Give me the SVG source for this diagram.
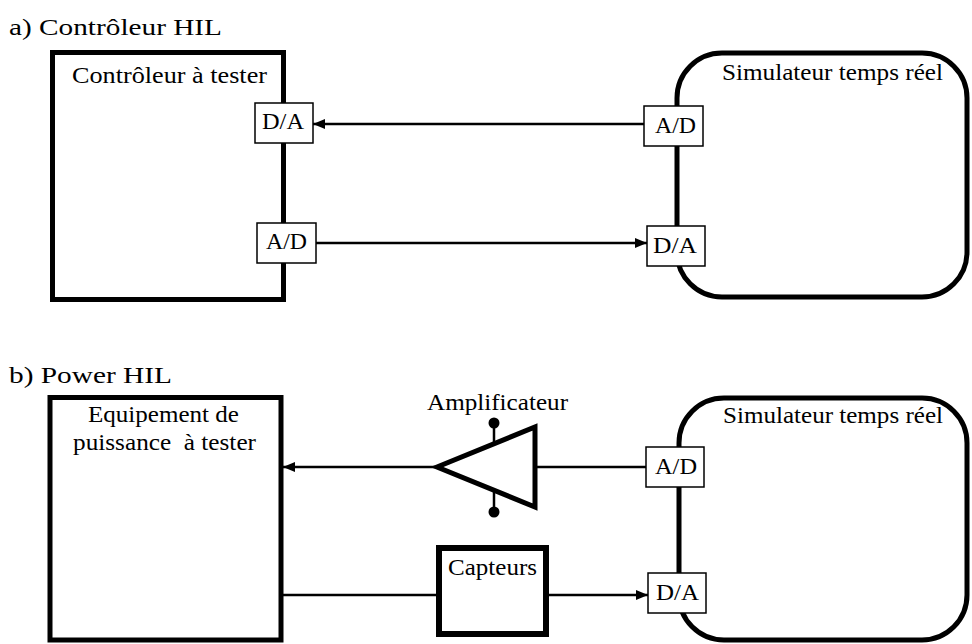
<svg xmlns="http://www.w3.org/2000/svg" width="972" height="644" viewBox="0 0 972 644">
<defs>
<marker id="arr" markerWidth="12" markerHeight="10" refX="12" refY="5" orient="auto" markerUnits="userSpaceOnUse">
<path d="M0,0 L12,5 L0,10 Z" fill="#000"/>
</marker>
<style>
text{font-family:'Liberation Serif','Times New Roman',Times,serif;font-size:22.5px;fill:#000;white-space:pre}
.big{fill:#fff;stroke:#000;stroke-width:5}
.port{fill:#fff;stroke:#000;stroke-width:1.5}
.wire{fill:none;stroke:#000;stroke-width:2.5}
</style>
</defs>
<rect width="972" height="644" fill="#fff"/>
<g font-family="Liberation Serif, serif">
<text x="9" y="35" textLength="213" lengthAdjust="spacingAndGlyphs">a) Contrôleur HIL</text>
<text x="9" y="383" textLength="163" lengthAdjust="spacingAndGlyphs">b) Power HIL</text>

<g id="controleur">
<rect class="big" x="52.5" y="52.5" width="231" height="247"/>
<text x="72" y="83" textLength="195" lengthAdjust="spacingAndGlyphs">Contrôleur à tester</text>
</g>
<g id="simulateur-a">
<rect class="big" x="677" y="53" width="290" height="244" rx="45" ry="45"/>
<text x="722" y="80" textLength="221" lengthAdjust="spacingAndGlyphs">Simulateur temps réel</text>
</g>
<g id="port-a-da-left">
<rect class="port" x="255" y="103" width="58" height="40"/>
<text x="262" y="129" textLength="42" lengthAdjust="spacingAndGlyphs">D/A</text>
</g>
<g id="port-a-ad-left">
<rect class="port" x="257" y="223" width="59" height="40"/>
<text x="266" y="249" textLength="41" lengthAdjust="spacingAndGlyphs">A/D</text>
</g>
<g id="port-a-ad-right">
<rect class="port" x="644" y="106" width="59" height="40"/>
<text x="655" y="133" textLength="41" lengthAdjust="spacingAndGlyphs">A/D</text>
</g>
<g id="port-a-da-right">
<rect class="port" x="647" y="226" width="58" height="40"/>
<text x="653" y="253" textLength="44" lengthAdjust="spacingAndGlyphs">D/A</text>
</g>

<g id="equipement">
<rect class="big" x="50" y="397.5" width="231" height="242.5"/>
<text x="88" y="422" textLength="151" lengthAdjust="spacingAndGlyphs">Equipement de</text>
<text x="73" y="450" textLength="183" lengthAdjust="spacingAndGlyphs" xml:space="preserve">puissance  à tester</text>
</g>
<g id="simulateur-b">
<rect class="big" x="679" y="398" width="288" height="242" rx="45" ry="45"/>
<text x="723" y="423" textLength="220" lengthAdjust="spacingAndGlyphs">Simulateur temps réel</text>
</g>
<g id="port-b-ad">
<rect class="port" x="646" y="447" width="58" height="40"/>
<text x="655" y="474" textLength="42" lengthAdjust="spacingAndGlyphs">A/D</text>
</g>
<g id="port-b-da">
<rect class="port" x="648" y="573" width="58" height="40"/>
<text x="656" y="600" textLength="43" lengthAdjust="spacingAndGlyphs">D/A</text>
</g>
<g id="amplificateur">
<line class="wire" x1="494" y1="423" x2="494" y2="445"/>
<line class="wire" x1="494" y1="489" x2="494" y2="512"/>
<circle cx="494" cy="423" r="5.5" fill="#000"/>
<circle cx="494" cy="512" r="5.5" fill="#000"/>
<polygon points="437,467 535,427 535,507" fill="#fff" stroke="#000" stroke-width="5" stroke-linejoin="miter"/>
<text x="427" y="410" textLength="141" lengthAdjust="spacingAndGlyphs">Amplificateur</text>
</g>
<g id="capteurs">
<rect x="439" y="548" width="107" height="86" fill="#fff" stroke="#000" stroke-width="6"/>
<text x="448" y="575" textLength="89" lengthAdjust="spacingAndGlyphs">Capteurs</text>
</g>
</g>
<g id="connectors">
<line class="wire" x1="644" y1="124" x2="313" y2="124" marker-end="url(#arr)"/>
<line class="wire" x1="316" y1="243" x2="647" y2="243" marker-end="url(#arr)"/>
<line class="wire" x1="646" y1="467" x2="537" y2="467"/>
<line class="wire" x1="435" y1="467" x2="283" y2="467" marker-end="url(#arr)"/>
<line class="wire" x1="283" y1="595" x2="436" y2="595"/>
<line class="wire" x1="549" y1="595" x2="648" y2="595" marker-end="url(#arr)"/>
</g>
</svg>
